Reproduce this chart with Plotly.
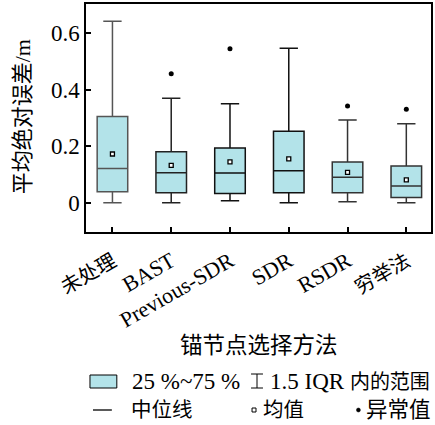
import plotly.graph_objects as go

# Anchor-node selection methods and their error statistics (m)
methods = ["未处理", "BAST", "Previous-SDR", "SDR", "RSDR", "穷举法"]
lower_fence = [0.001, 0.001, 0.008, 0.001, 0.005, 0.001]
q1 = [0.040, 0.036, 0.034, 0.036, 0.036, 0.020]
median = [0.122, 0.107, 0.106, 0.114, 0.091, 0.060]
q3 = [0.305, 0.181, 0.194, 0.253, 0.145, 0.131]
upper_fence = [0.641, 0.370, 0.350, 0.546, 0.293, 0.280]
mean = [0.173, 0.133, 0.145, 0.156, 0.108, 0.082]
outlier_methods = ["BAST", "Previous-SDR", "RSDR", "穷举法"]
outlier_values = [0.456, 0.544, 0.342, 0.331]

y_tick_vals = [0, 0.2, 0.4, 0.6]
y_tick_text = ["0", "0.2", "0.4", "0.6"]

line_colors = ["#555555", "#222222", "#111111", "#111111", "#333333", "#333333"]
FILL = "#b3e3e9"
FONT = "Liberation Serif, Noto Sans CJK SC"

W, H = 435, 425
L, R, T, B = 86, 2, 4, 193
PW, PH = W - L - R, H - T - B


def px(x):
    return (x - L) / PW


def py(y):
    return (H - B - y) / PH


def cjk(text, size):
    return f'<span style="font-size:{size}px">{text}</span>'


def is_cjk(text):
    return any("\u4e00" <= ch <= "\u9fff" for ch in text)


def label(text, x, y, size=23, xanchor="left", angle=0):
    return dict(text=text, x=px(x), y=py(y), xref="paper", yref="paper",
                xanchor=xanchor, yanchor="middle", textangle=angle, showarrow=False,
                font=dict(size=size, family=FONT, color="black"))


fig = go.Figure()

for i, m in enumerate(methods):
    fig.add_trace(go.Box(
        x=[m],
        q1=[q1[i]], median=[median[i]], q3=[q3[i]],
        lowerfence=[lower_fence[i]], upperfence=[upper_fence[i]],
        width=0.52, whiskerwidth=0.6,
        fillcolor=FILL,
        line=dict(color=line_colors[i], width=1.5),
        boxpoints=False,
        showlegend=False,
        hoverinfo="skip",
    ))

fig.add_trace(go.Scatter(
    x=methods, y=mean, mode="markers",
    marker=dict(symbol="square", size=4, color="white",
                line=dict(color="black", width=1.3)),
    showlegend=False, hoverinfo="skip",
))
fig.add_trace(go.Scatter(
    x=outlier_methods, y=outlier_values, mode="markers",
    marker=dict(symbol="circle", size=5, color="black"),
    showlegend=False, hoverinfo="skip",
))

shapes = []
annotations = []

# Axis titles
annotations.append(label("平均绝对误差/m", 22, 117, size=22, xanchor="center", angle=-90))
annotations.append(label("锚节点选择方法", 260, 345, size=22.5, xanchor="center"))

# Legend: box
shapes.append(dict(type="rect", xref="paper", yref="paper",
                   x0=px(90), x1=px(117), y0=py(388), y1=py(375),
                   fillcolor=FILL, line=dict(color="black", width=1)))
annotations.append(label("25 %~75 %", 130, 381))
# Legend: whisker range
for seg in [(258, 374, 258, 388), (252, 374, 264, 374), (252, 388, 264, 388)]:
    shapes.append(dict(type="line", xref="paper", yref="paper",
                       x0=px(seg[0]), y0=py(seg[1]), x1=px(seg[2]), y1=py(seg[3]),
                       line=dict(color="black", width=1)))
annotations.append(label("1.5 IQR " + cjk("内的范围", 20), 269, 381))
# Legend: median
shapes.append(dict(type="line", xref="paper", yref="paper",
                   x0=px(93), x1=px(112), y0=py(410), y1=py(410),
                   line=dict(color="black", width=1.3)))
annotations.append(label(cjk("中位线", 20.5), 129, 410))
# Legend: mean
shapes.append(dict(type="rect", xref="paper", yref="paper",
                   x0=px(253), x1=px(257), y0=py(412), y1=py(408),
                   fillcolor="white", line=dict(color="black", width=1)))
annotations.append(label(cjk("均值", 20.5), 262, 410))
# Legend: outlier
shapes.append(dict(type="circle", xref="paper", yref="paper",
                   x0=px(358), x1=px(362), y0=py(412), y1=py(408),
                   fillcolor="black", line=dict(color="black", width=0.5)))
annotations.append(label(cjk("异常值", 21.5), 366, 410))

x_tick_text = [cjk(m, 20) if is_cjk(m) else m for m in methods]

fig.update_layout(
    width=W, height=H,
    margin=dict(l=L, r=R, t=T, b=B, pad=0),
    paper_bgcolor="white", plot_bgcolor="white",
    boxmode="overlay",
    font=dict(family=FONT, color="black"),
    shapes=shapes, annotations=annotations,
    xaxis=dict(
        type="category", categoryorder="array", categoryarray=methods,
        tickvals=methods, ticktext=x_tick_text,
        range=[-0.45, 5.42],
        showline=True, mirror=True, linecolor="black", linewidth=1.5,
        ticks="inside", ticklen=5, tickwidth=1.5, tickcolor="black",
        tickangle=-30, tickfont=dict(size=22, family=FONT, color="black"),
        ticklabelstandoff=6,
        showgrid=False, zeroline=False,
    ),
    yaxis=dict(
        range=[-0.102, 0.702],
        tickvals=y_tick_vals, ticktext=y_tick_text,
        showline=True, mirror=True, linecolor="black", linewidth=1.5,
        ticks="inside", ticklen=5, tickwidth=1.5, tickcolor="black",
        tickfont=dict(size=23, family=FONT, color="black"),
        showgrid=False, zeroline=False,
    ),
)

fig.write_html("out.html")
